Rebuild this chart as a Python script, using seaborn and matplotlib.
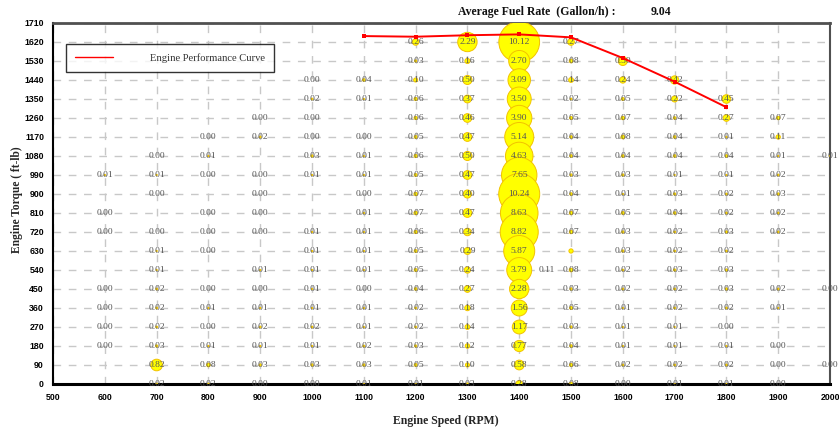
import numpy as np
import pandas as pd
import matplotlib
matplotlib.use("Agg")
import matplotlib.pyplot as plt
import seaborn as sns

# ---------------- data ----------------
torque_levels = [1620, 1530, 1440, 1350, 1260, 1170, 1080, 990, 900, 810,
                 720, 630, 540, 450, 360, 270, 180, 90, 0]
N = None
fuel_600 = [N, N, N, N, N, N, N, 0.01, N, 0.00, 0.00, N, N, 0.00, 0.00, 0.00, 0.00, N, N]
fuel_700 = [N, N, N, N, N, N, 0.00, 0.01, 0.00, N, 0.00, 0.01, 0.01, 0.02, 0.02, 0.02, 0.03, 0.82, 0.02]
fuel_800 = [N, N, N, N, N, 0.00, 0.01, 0.00, N, 0.00, 0.00, 0.00, N, 0.00, 0.01, 0.00, 0.01, 0.08, 0.02]
fuel_900 = [N, N, N, N, 0.00, 0.02, N, 0.00, 0.00, 0.00, 0.00, N, 0.01, 0.00, 0.01, 0.02, 0.01, 0.03, 0.00]
fuel_1000 = [N, N, 0.00, 0.02, 0.00, 0.00, 0.03, 0.01, N, N, 0.01, 0.01, 0.01, 0.01, 0.01, 0.02, 0.01, 0.03, 0.00]
fuel_1100 = [N, N, 0.04, 0.01, N, 0.00, 0.01, 0.01, 0.00, 0.01, 0.01, 0.01, 0.01, 0.00, 0.01, 0.01, 0.02, 0.03, 0.01]
fuel_1200 = [0.26, 0.03, 0.10, 0.06, 0.06, 0.05, 0.06, 0.05, 0.07, 0.07, 0.06, 0.05, 0.05, 0.04, 0.02, 0.02, 0.03, 0.05, 0.01]
fuel_1300 = [2.29, 0.16, 0.50, 0.37, 0.46, 0.47, 0.50, 0.47, 0.40, 0.47, 0.34, 0.29, 0.24, 0.27, 0.18, 0.14, 0.12, 0.10, 0.03]
fuel_1400 = [10.12, 2.70, 3.09, 3.50, 3.90, 5.14, 4.63, 7.65, 10.24, 8.63, 8.82, 5.87, 3.79, 2.28, 1.56, 1.17, 0.77, 0.58, 0.28]
fuel_1500 = [0.27, 0.08, 0.14, 0.02, 0.05, 0.04, 0.04, 0.03, 0.04, 0.07, 0.07, 0.11, 0.08, 0.03, 0.05, 0.03, 0.04, 0.06, 0.08]
fuel_1600 = [N, 0.50, 0.24, 0.05, 0.07, 0.08, 0.04, 0.03, 0.01, 0.05, 0.03, 0.03, 0.02, 0.02, 0.01, 0.01, 0.01, 0.02, 0.00]
fuel_1700 = [N, N, 0.42, 0.22, 0.04, 0.04, 0.04, 0.01, 0.03, 0.04, 0.02, 0.02, 0.03, 0.02, 0.02, 0.01, 0.01, 0.02, 0.01]
fuel_1800 = [N, N, N, 0.45, 0.27, 0.01, 0.04, 0.01, 0.02, 0.02, 0.03, 0.02, 0.03, 0.03, 0.02, 0.00, 0.01, 0.02, 0.01]
fuel_1900 = [N, N, N, N, 0.07, 0.11, 0.01, 0.02, 0.03, 0.02, 0.02, N, N, 0.02, 0.01, N, 0.00, 0.00, 0.00]
fuel_2000 = [N, N, N, N, N, N, 0.01, N, N, N, N, N, N, 0.00, N, N, N, 0.00, N]

speed_columns = {600: fuel_600, 700: fuel_700, 800: fuel_800, 900: fuel_900,
                 1000: fuel_1000, 1100: fuel_1100, 1200: fuel_1200, 1300: fuel_1300,
                 1400: fuel_1400, 1500: fuel_1500, 1600: fuel_1600, 1700: fuel_1700,
                 1800: fuel_1800, 1900: fuel_1900, 2000: fuel_2000}

curve_speed = [1100, 1200, 1300, 1400, 1500, 1600, 1700, 1800]
curve_torque = [1648, 1645, 1652, 1656, 1642, 1544, 1432, 1311]

avg_fuel_rate = 9.04
x_ticks = list(range(500, 2001, 100))
y_ticks = list(range(0, 1711, 90))

# ---------------- build table ----------------
rows = []
for spd, vals in speed_columns.items():
    for tq, v in zip(torque_levels, vals):
        if v is not None:
            rows.append({"speed": spd, "torque": tq, "fuel": v})
df = pd.DataFrame(rows)
curve_df = pd.DataFrame({"speed": curve_speed, "torque": curve_torque})

# ---------------- plot ----------------
sns.set_theme(style="white")
plt.rcParams["font.family"] = ["Liberation Serif", "DejaVu Serif"]

fig = plt.figure(figsize=(8.39, 4.29), dpi=100)
ax = fig.add_axes([0.0632, 0.1049, 0.9261, 0.8415])

sns.scatterplot(data=df, x="speed", y="torque", size="fuel",
                sizes=(0, 870), size_norm=(0, 10.24), color="#FFFF00",
                edgecolor="#F2C200", linewidth=0.7, legend=False, ax=ax, zorder=3)

tick_font = ["Liberation Sans", "DejaVu Sans"]
for _, r in df.iterrows():
    tx, ty = r["speed"], r["torque"]
    if (tx, ty) == (1500, 630):
        tx, ty = tx - 47, ty - 90
    ax.text(tx, ty, f"{r['fuel']:.2f}", ha="center", va="center",
            fontsize=6.8, color="#555555", zorder=4)

sns.lineplot(data=curve_df, x="speed", y="torque", color="#FF0000",
             linewidth=1.4, marker="s", markersize=2.8, markeredgewidth=0,
             ax=ax, zorder=5, label="Engine Performance Curve")

ax.set_xlim(500, 2000)
ax.set_ylim(0, 1710)
ax.set_xticks(x_ticks)
ax.set_yticks(y_ticks)
ax.set_xticklabels([str(t) for t in x_ticks], fontsize=6.3, fontweight="bold",
                   family=tick_font)
ax.set_yticklabels([str(t) for t in y_ticks], fontsize=6.3, fontweight="bold",
                   family=tick_font)
ax.tick_params(axis="both", direction="inout", length=5, width=1,
               color="black", pad=4, labelcolor="black")
ax.tick_params(axis="x", pad=4)

ax.grid(True, color="#C8C8C8", linewidth=1.0, linestyle=(0, (5.5, 5.5)))
ax.set_axisbelow(True)

for side in ["left", "bottom"]:
    ax.spines[side].set_color("black")
ax.spines["left"].set_linewidth(1.5)
ax.spines["bottom"].set_linewidth(2.2)
ax.spines["top"].set_color("#505050")
ax.spines["top"].set_linewidth(2.0)
ax.spines["right"].set_color("#505050")
ax.spines["right"].set_linewidth(1.5)
for s in ax.spines.values():
    s.set_visible(True)

ax.set_xlabel("Engine Speed (RPM)", fontsize=8.5, fontweight="bold")
ax.set_ylabel("Engine Torque ( ft-lb)", fontsize=8.3, fontweight="bold")
ax.xaxis.set_label_coords(0.505, -0.085)
ax.yaxis.set_label_coords(-0.039, 0.51)

leg = ax.legend(loc="upper left", bbox_to_anchor=(0.0167, 0.942),
                frameon=True, fancybox=False, edgecolor="black",
                fontsize=7.6, handlelength=3.6, handletextpad=3.5,
                borderpad=0.85, borderaxespad=0)
leg.get_frame().set_linewidth(1.0)
for h in leg.legend_handles:
    h.set_marker("")
    h.set_linewidth(1.0)
for t in leg.get_texts():
    t.set_color("#333333")

fig.text(0.546, 0.972, "Average Fuel Rate  (Gallon/h) :", fontsize=8.5,
         fontweight="bold", ha="left", va="center", color="#111111")
fig.text(0.775, 0.972, f"{avg_fuel_rate:.2f}", fontsize=8.5,
         fontweight="bold", ha="left", va="center", color="#111111")

fig.savefig("out.png", dpi=100)
